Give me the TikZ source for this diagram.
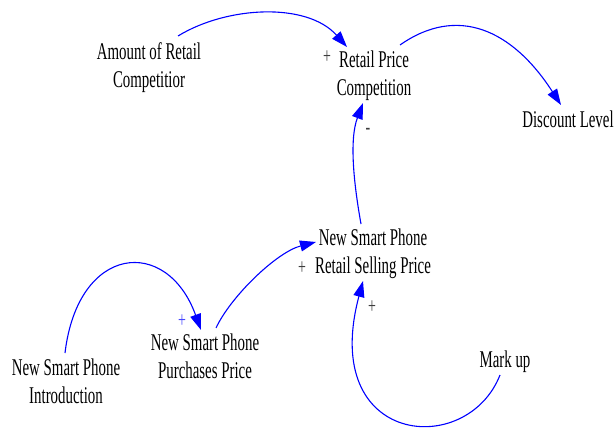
\documentclass[tikz,border=0pt]{standalone}
\usepackage{fontspec}
\setmainfont{Liberation Serif}[FakeStretch=0.62]
\usetikzlibrary{arrows.meta}
\definecolor{linkblue}{RGB}{0,0,255}
\definecolor{signgray}{RGB}{60,60,60}
\definecolor{signblue}{RGB}{70,70,255}
\begin{document}
\begin{tikzpicture}[x = 1pt, y = -1pt,
        var/.style = {align=center, anchor=base, inner sep=0pt, font=\fontsize{24}{28}\selectfont},
        sign/.style = {inner sep=0pt, text=signgray, font=\fontsize{22.5}{28}\selectfont},
        link/.style = {linkblue, line width=1.1pt, -{Triangle[length=16pt,width=11pt]}}]
            \useasboundingbox (0,0) rectangle (615,430);
            \node[var] (compet) at (149,88) {Amount of Retail\\Competitior};
            \node[var] (rpcomp) at (374,96) {Retail Price\\Competition};
            \node[var] (discount) at (568,128) {Discount Level};
            \node[var] (sellprice) at (373,273) {New Smart Phone\\Retail Selling Price};
            \node[var] (purchprice) at (205,378) {New Smart Phone\\Purchases Price};
            \node[var] (intro) at (66,403) {New Smart Phone\\Introduction};
            \node[var] (markup) at (505,367) {Mark up};

            \draw[link] ([shift={(29,-52)}]compet.base) .. controls +(49,-30) and +(-40,-45) .. ([shift={(-27,-49)}]rpcomp.base);
            \draw[link] ([shift={(26,-51)}]rpcomp.base) .. controls +(57,-40) and +(-49,-76) .. ([shift={(-7,-23)}]discount.base);
            \draw[link] ([shift={(-12,-49)}]sellprice.base) .. controls +(-7,-39) and +(-14,37) .. ([shift={(-11,7)}]rpcomp.base);
            \draw[link] ([shift={(-5,8)}]markup.base) .. controls +(-33,84) and +(-44,165) .. ([shift={(-10,8)}]sellprice.base);
            \draw[link] ([shift={(11,-50)}]purchprice.base) .. controls +(15,-32) and +(-39,10) .. ([shift={(-57,-31)}]sellprice.base);
            \draw[link] ([shift={(-1,-50)}]intro.base) .. controls +(13,-109) and +(-34,-94) .. ([shift={(-4,-48)}]purchprice.base);

            \node[sign] (s1) at (327,57) {+};
            \node[sign] (s2) at (368,131) {-};
            \node[sign] (s3) at (302,268) {+};
            \node[sign] (s4) at (372,307) {+};
            \node[sign, text=signblue] (s5) at (182,321) {+};
        \end{tikzpicture}
\end{document}
